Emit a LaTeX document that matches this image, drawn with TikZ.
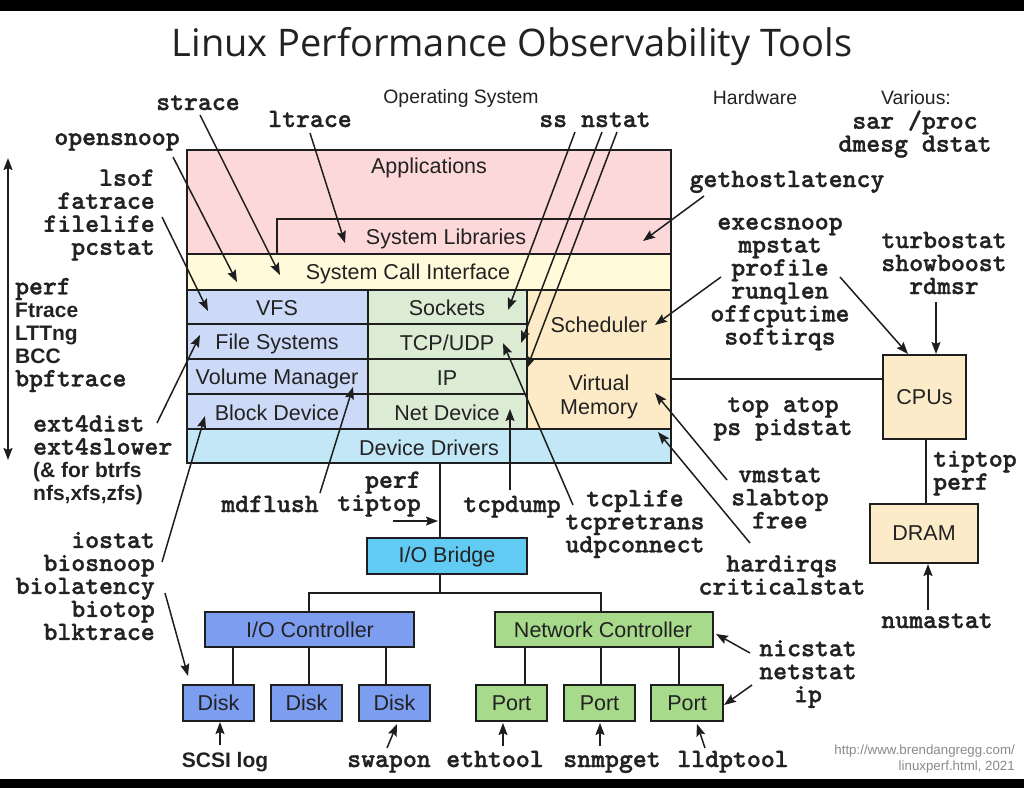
\documentclass[tikz,border=0pt]{standalone}
\usepackage{fontspec}
\setmainfont{Liberation Sans}
\newfontfamily\titlefont{Open Sans}
\newfontfamily\monob{lmmonolt10-bold.otf}[FakeBold=1.2]
\usetikzlibrary{arrows.meta}
\definecolor{lc}{HTML}{1E1E1E}
\definecolor{tc}{HTML}{222222}
\definecolor{cApp}{HTML}{FDD8D8}
\definecolor{cSci}{HTML}{FFFBDA}
\definecolor{cFs}{HTML}{CCD9F7}
\definecolor{cNet}{HTML}{DCEBD4}
\definecolor{cSch}{HTML}{FDEBC8}
\definecolor{cDrv}{HTML}{C2E8F8}
\definecolor{cIob}{HTML}{62CBF3}
\definecolor{cIoc}{HTML}{7D9DF0}
\definecolor{cNc}{HTML}{A7DA8B}
\definecolor{cCpu}{HTML}{FCEBC8}
\definecolor{cFoot}{HTML}{8A8A8A}
\newcommand\mt{\monob\fontsize{26.5}{23}\selectfont}
\newcommand\sbf{\rmfamily\bfseries\fontsize{21}{23}\selectfont}
\begin{document}
\begin{tikzpicture}[x=1pt,y=-1pt,
  blk/.style={draw=lc, line width=1.6pt, inner sep=0pt, outer sep=0pt, anchor=north west},
  lab/.style={text=tc, font=\fontsize{21.5}{24}\selectfont, inner sep=0pt},
  hdr/.style={text=tc, font=\fontsize{19.4}{22}\selectfont, inner sep=0pt},
  tool/.style={text=tc, font=\mt, inner sep=0pt},
  ln/.style={draw=lc, line width=1.6pt},
  arr/.style={draw=lc, line width=1.5pt, -{Stealth[length=12pt,width=9pt,inset=2pt]}}]
\useasboundingbox (0,0) rectangle (1024,788);
\fill[black] (0,0) rectangle (1024,788);
\fill[white] (0,11) rectangle (1024,779);

% title and headers
\node[text=tc, font=\titlefont\fontsize{38}{44}\selectfont, inner sep=0pt] (title) at (512,47) {Linux Performance Observability Tools};
\node[hdr] (hos) at (461,98) {Operating System};
\node[hdr] (hhw) at (755,98) {Hardware};
\node[hdr] (hvar) at (916,98) {Various:};
\node[tool, align=center] (various) at (915,134) {sar /proc\\dmesg dstat};

% OS stack
\node[blk, fill=cApp, minimum width=484pt, minimum height=104pt] (apps) at (187,150) {};
\node[blk, fill=cApp, minimum width=394pt, minimum height=35pt] (syslib) at (277,219) {};
\node[blk, fill=cSci, minimum width=484pt, minimum height=36pt] (sci) at (187,254) {};
\node[blk, fill=cFs, minimum width=181pt, minimum height=34pt] (vfs) at (187,290) {};
\node[blk, fill=cFs, minimum width=181pt, minimum height=35pt] (fsys) at (187,324) {};
\node[blk, fill=cFs, minimum width=181pt, minimum height=35pt] (volm) at (187,359) {};
\node[blk, fill=cFs, minimum width=181pt, minimum height=35pt] (blkd) at (187,394) {};
\node[blk, fill=cNet, minimum width=159pt, minimum height=34pt] (sock) at (368,290) {};
\node[blk, fill=cNet, minimum width=159pt, minimum height=35pt] (tcpudp) at (368,324) {};
\node[blk, fill=cNet, minimum width=159pt, minimum height=35pt] (ipl) at (368,359) {};
\node[blk, fill=cNet, minimum width=159pt, minimum height=35pt] (netd) at (368,394) {};
\node[blk, fill=cSch, minimum width=144pt, minimum height=69pt] (sched) at (527,290) {};
\node[blk, fill=cSch, minimum width=144pt, minimum height=70pt] (vmem) at (527,359) {};
\node[blk, fill=cDrv, minimum width=484pt, minimum height=34pt] (ddrv) at (187,429) {};

\node[lab] (tApps) at (429,168) {Applications};
\node[lab] (tSyslib) at (446,239) {System Libraries};
\node[lab] (tSci) at (408,274) {System Call Interface};
\node[lab] (tVfs) at (277,308) {VFS};
\node[lab] (tFs) at (277,344) {File Systems};
\node[lab] (tVol) at (277,379) {Volume Manager};
\node[lab] (tBlk) at (277,413) {Block Device};
\node[lab] (tSock) at (447,308) {Sockets};
\node[lab] (tTcp) at (447,343) {TCP/UDP};
\node[lab] (tIp) at (447,378) {IP};
\node[lab] (tNetd) at (447,413) {Net Device};
\node[lab] (tSched) at (599,325) {Scheduler};
\node[lab, align=center, font=\fontsize{21.5}{24}\selectfont] (tVmem) at (599,397) {Virtual\\Memory};
\node[lab] (tDrv) at (429,448) {Device Drivers};

% hardware boxes
\node[blk, fill=cCpu, minimum width=83pt, minimum height=84pt] (cpus) at (883,355) {};
\node[lab] at (cpus.center) {CPUs};
\node[blk, fill=cCpu, minimum width=108pt, minimum height=59pt] (dram) at (870,504) {};
\node[lab] at (dram.center) {DRAM};
\node[blk, fill=cIob, minimum width=160pt, minimum height=36pt] (iob) at (367,538) {};
\node[lab] at (447,557) {I/O Bridge};
\node[blk, fill=cIoc, minimum width=209pt, minimum height=35pt] (ioc) at (205,612) {};
\node[lab] at (310,630) {I/O Controller};
\node[blk, fill=cNc, minimum width=218pt, minimum height=35pt] (netc) at (495,612) {};
\node[lab] at (603,630) {Network Controller};
\node[blk, fill=cIoc, minimum width=71pt, minimum height=36pt] (disk1) at (183,685) {};
\node[blk, fill=cIoc, minimum width=71pt, minimum height=36pt] (disk2) at (271,685) {};
\node[blk, fill=cIoc, minimum width=71pt, minimum height=36pt] (disk3) at (359,685) {};
\node[blk, fill=cNc, minimum width=71pt, minimum height=36pt] (port1) at (476,685) {};
\node[blk, fill=cNc, minimum width=71pt, minimum height=36pt] (port2) at (564,685) {};
\node[blk, fill=cNc, minimum width=72pt, minimum height=36pt] (port3) at (651,685) {};
\foreach \n in {disk1,disk2,disk3} \node[lab] at (\n.center) {Disk};
\foreach \n in {port1,port2,port3} \node[lab] at (\n.center) {Port};

% plain connectors
\draw[ln] (vmem.east |- 0,379) -- (cpus.west |- 0,379);
\draw[ln] (cpus.south -| 926,0) -- (dram.north -| 926,0);
\draw[ln] (ddrv.south -| 440,0) -- (iob.north -| 440,0);
\draw[ln] (iob.south -| 440,0) -- (440,593);
\draw[ln] (ioc.north -| 309,0) -- (309,593) -- (601,593) -- (netc.north -| 601,0);
\draw[ln] (ioc.south -| 233,0) -- (disk1.north -| 233,0);
\draw[ln] (ioc.south -| 309,0) -- (disk2.north -| 309,0);
\draw[ln] (ioc.south -| 386,0) -- (disk3.north -| 386,0);
\draw[ln] (netc.south -| 525,0) -- (port1.north -| 525,0);
\draw[ln] (netc.south -| 601,0) -- (port2.north -| 601,0);
\draw[ln] (netc.south -| 679,0) -- (port3.north -| 679,0);

% tool labels
\node[tool, anchor=base] (strace) at (198,110) {strace};
\node[tool, anchor=base] (ltrace) at (310,127) {ltrace};
\node[tool, anchor=base] (opensnoop) at (117,145) {opensnoop};
\node[tool, align=right, anchor=east] (lsof) at (155,215) {lsof\\fatrace\\filelife\\pcstat};
\node[tool, align=left, anchor=west] (tracers) at (15,335) {perf\\{\sbf Ftrace}\\{\sbf LTTng}\\{\sbf BCC}\\bpftrace};
\node[tool, align=left, anchor=west] (ext4) at (33,460) {ext4dist\\ext4slower\\{\sbf (\& for btrfs}\\{\sbf nfs,xfs,zfs)}};
\node[tool, align=right, anchor=east] (iostat) at (155,586) {iostat\\biosnoop\\biolatency\\biotop\\blktrace};
\node[tool, anchor=base] (mdflush) at (270,512) {mdflush};
\node[tool, align=right, anchor=east] (perftip) at (421,494) {perf\\tiptop};
\node[tool, anchor=base] (tcpdump) at (512,512) {tcpdump};
\node[tool, align=center] (tcplife) at (635,524) {tcplife\\tcpretrans\\udpconnect};
\node[tool, anchor=base] (ssnstat) at (595,127) {ss nstat};
\node[tool, anchor=base] (gethost) at (787,187) {gethostlatency};
\node[tool, align=center] (execsnoop) at (780,284) {execsnoop\\mpstat\\profile\\runqlen\\offcputime\\softirqs};
\node[tool, align=center] (turbostat) at (944,263) {turbostat\\showboost\\rdmsr};
\node[tool, align=center] (topatop) at (783,419) {top atop\\ps pidstat};
\node[tool, align=left, anchor=west] (tiptop) at (933,473) {tiptop\\perf};
\node[tool, align=center] (vmstat) at (780,498) {vmstat\\slabtop\\free};
\node[tool, align=center] (hardirqs) at (782,575) {hardirqs\\criticalstat};
\node[tool, anchor=base] (numastat) at (937,628) {numastat};
\node[tool, align=center] (nicstat) at (808,674) {nicstat\\netstat\\ip};
\node[text=tc, font=\sbf, inner sep=0pt, anchor=base] (scsi) at (225,767) {SCSI log};
\node[tool, anchor=base] (swapon) at (389,767) {swapon};
\node[tool, anchor=base] (ethtool) at (495,767) {ethtool};
\node[tool, anchor=base] (snmpget) at (612,767) {snmpget};
\node[tool, anchor=base] (lldptool) at (733,767) {lldptool};
\node[text=cFoot, font=\fontsize{13.3}{15.5}\selectfont, align=right, anchor=east, inner sep=0pt] (url) at (1015,759) {http://www.brendangregg.com/\\linuxperf.html, 2021};

% arrow end points
\coordinate (opensnoopS) at (173,157);  \coordinate (opensnoopE) at (237,282);
\coordinate (straceS) at (200,115);     \coordinate (straceE) at (280,275);
\coordinate (ltraceS) at (310,133);     \coordinate (ltraceE) at (345,243);
\coordinate (lsofS) at (162,217);       \coordinate (lsofE) at (208,311);
\coordinate (ext4S) at (157,423);       \coordinate (ext4E) at (200,335);
\coordinate (iostatS1) at (162,562);    \coordinate (iostatE1) at (205,416);
\coordinate (iostatS2) at (165,593);    \coordinate (iostatE2) at (188,676);
\coordinate (mdflushS) at (320,493);    \coordinate (mdflushE) at (353,387);
\coordinate (perftipS) at (393,521);    \coordinate (perftipE) at (438,521);
\coordinate (tcpdumpS) at (510,490);    \coordinate (tcpdumpE) at (510,409);
\coordinate (tcplifeS) at (573,505);    \coordinate (tcplifeE) at (503,343);
\coordinate (ssS) at (575,132);         \coordinate (ssE) at (508,310);
\coordinate (nstatS1) at (602,132);     \coordinate (nstatE1) at (521,343);
\coordinate (nstatS2) at (617,132);     \coordinate (nstatE2) at (527,368);
\coordinate (gethostS) at (704,196);    \coordinate (gethostE) at (643,241);
\coordinate (execS1) at (721,277);      \coordinate (execE1) at (655,325);
\coordinate (execS2) at (840,277);      \coordinate (execE2) at (908,354);
\coordinate (turboS) at (936,302);      \coordinate (turboE) at (936,354);
\coordinate (vmstatS) at (727,480);     \coordinate (vmstatE) at (655,393);
\coordinate (hardS) at (750,543);       \coordinate (hardE) at (658,432);
\coordinate (numaS) at (928,610);       \coordinate (numaE) at (928,564);
\coordinate (nicS1) at (750,653);       \coordinate (nicE1) at (716,634);
\coordinate (nicS2) at (752,685);       \coordinate (nicE2) at (724,705);
\coordinate (scsiS) at (220,745);       \coordinate (scsiE) at (220,722);
\coordinate (swaponS) at (387,748);     \coordinate (swaponE) at (397,724);
\coordinate (ethS) at (503,746);        \coordinate (ethE) at (503,723);
\coordinate (snmpS) at (600,746);       \coordinate (snmpE) at (600,723);
\coordinate (lldpS) at (705,748);       \coordinate (lldpE) at (697,724);
\coordinate (scopeT) at (8,158);        \coordinate (scopeB) at (8,460);

\foreach \s/\e in {opensnoopS/opensnoopE, straceS/straceE, ltraceS/ltraceE, lsofS/lsofE,
  ext4S/ext4E, iostatS1/iostatE1, iostatS2/iostatE2, mdflushS/mdflushE, perftipS/perftipE,
  tcpdumpS/tcpdumpE, tcplifeS/tcplifeE, ssS/ssE, nstatS1/nstatE1, nstatS2/nstatE2,
  gethostS/gethostE, execS1/execE1, execS2/execE2, turboS/turboE, vmstatS/vmstatE,
  hardS/hardE, numaS/numaE, nicS1/nicE1, nicS2/nicE2, scsiS/scsiE, swaponS/swaponE,
  ethS/ethE, snmpS/snmpE, lldpS/lldpE}
  \draw[arr] (\s) -- (\e);
\draw[ln, {Stealth[length=12pt,width=9pt,inset=2pt]}-{Stealth[length=12pt,width=9pt,inset=2pt]}] (scopeT) -- (scopeB);
\end{tikzpicture}
\end{document}
